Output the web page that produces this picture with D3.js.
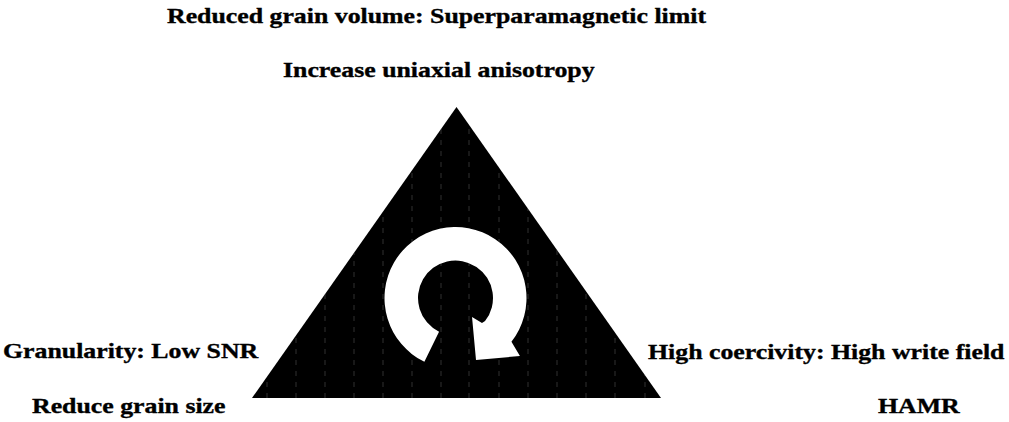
<!DOCTYPE html>
<html>
<head>
<meta charset="utf-8">
<script src="https://cdn.jsdelivr.net/npm/d3@7"></script>
<style>
html,body{margin:0;padding:0;background:#fff;}
svg{display:block;}
text{font-family:"Liberation Serif","Times New Roman",serif;font-weight:bold;fill:#000;stroke:#000;stroke-width:0.35px;}
</style>
</head>
<body>
<svg id="chart" width="1009" height="422"></svg>
<script>
// ---- data ----
const labels = [
  "Reduced grain volume: Superparamagnetic limit",
  "Increase uniaxial anisotropy",
  "Granularity: Low SNR",
  "Reduce grain size",
  "High coercivity: High write field",
  "HAMR"
];
// label left-edge positions (px) and baselines (px)
const labelLeft = [167, 283, 3, 32, 648, 878];
const labelBase = [23, 77, 358, 413, 359, 413];
// triangle vertices (diagram units)
const triangle = [[0, 1], [-1, 0], [1, 0]];
// faint vertical scan lines inside the triangle (px)
const scanLines = [267, 296, 325, 354, 383, 412, 441, 469, 499, 528, 557, 586, 615, 645];
// circular arrow: ring from tail angle to head angle (deg, clockwise from top)
const ringAngles = [-154, 128];
const ringRadii = [37.5, 71];
// arrow head outline, polar (deg, radius)
const headPoints = [[132, 86.7], [161.7, 65.3], [139, 25.2], [133.3, 36.4]];

// ---- drawing ----
const svg = d3.select("#chart");
const x = d3.scaleLinear().domain([-1, 1]).range([252, 661]);
const y = d3.scaleLinear().domain([0, 1]).range([398, 107]);

const triPath = d3.line().x(d => x(d[0])).y(d => y(d[1]))(triangle) + "Z";
svg.append("clipPath").attr("id", "tri").append("path").attr("d", triPath);
svg.append("path").attr("d", triPath).attr("fill", "#000");

svg.append("g").attr("clip-path", "url(#tri)")
  .selectAll("line").data(scanLines).join("line")
  .attr("x1", d => d).attr("x2", d => d)
  .attr("y1", y(1)).attr("y2", y(0))
  .attr("stroke", "#8a8a8a").attr("stroke-width", 0.8)
  .attr("stroke-dasharray", "5,6").attr("opacity", 0.45);

const cx = 455.5, cy = 298;
const rad = a => (a - 90) * Math.PI / 180;
const pt = (a, r) => [cx + r * Math.cos(rad(a)), cy + r * Math.sin(rad(a))];
const p = d3.path();
const s = pt(ringAngles[0], ringRadii[1]);
p.moveTo(s[0], s[1]);
p.arc(cx, cy, ringRadii[1], rad(ringAngles[0]), rad(ringAngles[1]), false);
headPoints.forEach(h => { const q = pt(h[0], h[1]); p.lineTo(q[0], q[1]); });
p.arc(cx, cy, ringRadii[0], rad(ringAngles[1]), rad(ringAngles[0]), true);
p.closePath();
svg.append("path").attr("d", p.toString()).attr("fill", "#fff");

svg.selectAll("text.lbl")
  .data(labels)
  .join("text")
  .attr("class", "lbl")
  .attr("transform", (d, i) => `translate(${labelLeft[i]},${labelBase[i]}) scale(1.23,1)`)
  .attr("font-size", 21)
  .text(d => d);
</script>
</body>
</html>
